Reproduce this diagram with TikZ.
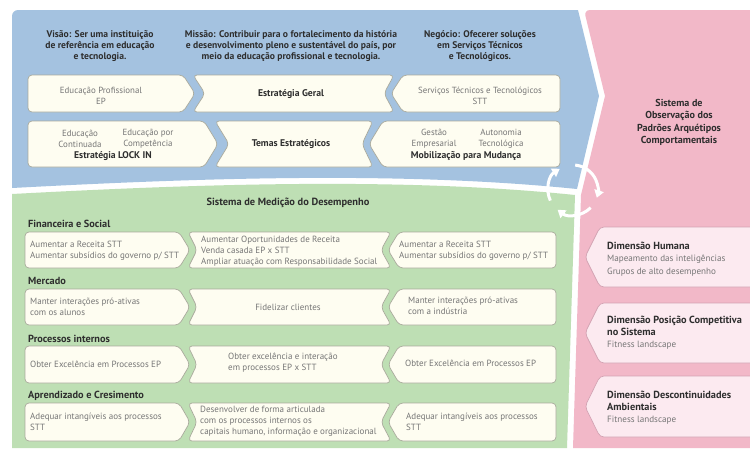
\documentclass[tikz,border=0pt]{standalone}
\usepackage{fontspec}
\setmainfont{PT Sans}
\usetikzlibrary{arrows.meta}
\definecolor{bluebg}{HTML}{A4C2E0}
\definecolor{greenbg}{HTML}{BEDFB4}
\definecolor{pinkbg}{HTML}{F2B8C8}
\definecolor{cream}{HTML}{FEFDF1}
\definecolor{boxline}{HTML}{A9AA9C}
\definecolor{pinkbox}{HTML}{FCEAF0}
\definecolor{pinkline}{HTML}{D3A3B3}
\definecolor{graytxt}{HTML}{767676}
\definecolor{darktxt}{HTML}{2E2E2E}
\newcommand{\pkb}[1]{{\fontsize{10.3}{12.2}\selectfont\bfseries\color{darktxt}#1}}
% style, x1, x2, ytop, ybot, left top/bot inset, left mid inset, right top/bot inset, right mid inset
\newcommand{\cbox}[9]{\draw[#1] ({#2+#6},#4) -- ({#3-#8},#4) -- ({#3-#9},{(#4+#5)/2}) -- ({#3-#8},#5) -- ({#2+#6},#5) -- ({#2+#7},{(#4+#5)/2}) -- cycle;}
\begin{document}
\begin{tikzpicture}[x=1pt,y=-1pt,
  boxst/.style={fill=cream, draw=boxline, line width=0.7pt, rounded corners=4pt},
  pboxst/.style={fill=pinkbox, draw=pinkline, line width=0.7pt, rounded corners=4pt},
  ttl/.style={font=\fontsize{9.6}{11}\selectfont\bfseries, text=darktxt, align=center, inner sep=0pt},
  gtxt/.style={font=\fontsize{8.9}{11}\selectfont, text=graytxt, align=center, inner sep=0pt},
  btxt/.style={font=\fontsize{9.7}{11}\selectfont\bfseries, text=darktxt, inner sep=0pt},
  ltxt/.style={font=\fontsize{9}{11.2}\selectfont, text=graytxt, align=left, anchor=west, inner sep=0pt},
  lbl/.style={font=\fontsize{10.3}{11}\selectfont\bfseries, text=darktxt, anchor=west, inner sep=0pt},
  gttl/.style={font=\fontsize{10.4}{11}\selectfont\bfseries, text=darktxt, inner sep=0pt},
  ptitle/.style={font=\fontsize{10.1}{12.4}\selectfont\bfseries, text=darktxt, align=center, inner sep=0pt},
  ptxt/.style={font=\fontsize{9.1}{12.2}\selectfont, text=graytxt, align=left, anchor=west, inner sep=0pt},
  cyc/.style={white, line width=3pt, -{Triangle[length=7.5pt,width=9.5pt]}}
]
\useasboundingbox (0,0) rectangle (750,448);
\clip (0,0) rectangle (750,448);
\fill[white] (0,0) rectangle (750,448);

% regions
\fill[bluebg] (12,188) [rounded corners=6pt] -- (12,10) [sharp corners] -- (578,10) -- (599,96) -- (577,189) .. controls (400,171) and (200,178) .. (12,188) -- cycle;
\fill[greenbg] (12,194) .. controls (200,184) and (400,177) .. (575,195) -- (567,448) -- (12,448) -- cycle;
\fill[pinkbg] (750,448) -- (573,448) -- (581,195) -- (605,96) [rounded corners=6pt] -- (584,10) [sharp corners] -- (750,10) -- cycle;

% blue boxes
\cbox{boxst}{28}{195}{75}{112}{0}{0}{12}{0}
\cbox{boxst}{193}{394}{75}{112}{0}{12}{0}{10}
\cbox{boxst}{391}{560}{75}{112}{12}{0}{0}{0}
\cbox{boxst}{28}{218}{121}{167}{0}{0}{14}{0}
\cbox{boxst}{215}{373}{121}{167}{0}{14}{0}{11}
\cbox{boxst}{369}{560}{121}{167}{14}{0}{0}{0}

% green boxes
\foreach \yt/\yb in {232/268, 289/325, 346/383, 403/441}{
  \cbox{boxst}{25}{190}{\yt}{\yb}{0}{0}{11}{0}
  \cbox{boxst}{188}{391}{\yt}{\yb}{0}{9}{0}{10}
  \cbox{boxst}{388}{556}{\yt}{\yb}{11}{0}{0}{0}
}

% pink boxes
\cbox{pboxst}{585}{760}{227}{287}{15}{0}{0}{0}
\cbox{pboxst}{585}{760}{303}{363}{15}{0}{0}{0}
\cbox{pboxst}{585}{760}{376}{437}{15}{0}{0}{0}

% blue texts
\node[ttl] (visao) at (100,46) {Visão: Ser uma instituição\\de referência em educação\\e tecnologia.};
\node[ttl] (missao) at (291,46) {Missão: Contribuir para o fortalecimento da história\\e desenvolvimento pleno e sustentável do país, por\\meio da educação profissional e tecnologia.};
\node[ttl] (negocio) at (480,46) {Negócio: Ofecerer soluções\\em Serviços Técnicos\\e Tecnológicos.};

\node[gtxt] (ep) at (101,95.5) {Educação Profissional\\EP};
\node[btxt] (eg) at (291,94) {Estratégia Geral};
\node[gtxt] (stt) at (480,95.5) {Serviços Técnicos e Tecnológicos\\STT};
\node[gtxt] (educ) at (80,138.5) {Educação\\Continuada};
\node[gtxt] (comp) at (148,138.5) {Educação por\\Competência};
\node[btxt] (lock) at (113,156) {Estratégia LOCK IN};
\node[btxt] (temas) at (291,144) {Temas Estratégicos};
\node[gtxt] (gest) at (434,138.5) {Gestão\\Empresarial};
\node[gtxt] (auto) at (501,138.5) {Autonomia\\Tecnológica};
\node[btxt] (mob) at (466,156) {Mobilização para Mudança};

% pink title
\node[ptitle] (sop) at (679,122.5) {Sistema de\\Observação dos\\Padrões Arquétipos\\Comportamentais};

% green texts
\node[gttl] (smd) at (288,203) {Sistema de Medição do Desempenho};
\node[lbl] (fin) at (28,224) {Financeira e Social};
\node[lbl] (mer) at (28,281) {Mercado};
\node[lbl] (pro) at (28,339) {Processos internos};
\node[lbl] (apr) at (28,396) {Aprendizado e Cresimento};

\node[ltxt] (a1) at (30,250.5) {Aumentar a Receita STT\\Aumentar subsídios do governo p/ STT};
\node[ltxt] (a2) at (201,251) {Aumentar Oportunidades de Receita\\Venda casada EP x STT\\Ampliar atuação com Responsabilidade Social};
\node[ltxt] (a3) at (399,250.5) {Aumentar a Receita STT\\Aumentar subsídios do governo p/ STT};
\node[ltxt] (b1) at (30,306.5) {Manter interações pró-ativas\\com os alunos};
\node[ltxt, anchor=center] (b2) at (288,307) {Fidelizar clientes};
\node[ltxt] (b3) at (408,306) {Manter interações pró-ativas\\com a indústria};
\node[ltxt] (c1) at (30,364) {Obter Excelência em Processos EP};
\node[ltxt] (c2) at (228,362.5) {Obter excelência e interação\\em processos EP x STT};
\node[ltxt] (c3) at (405,363.5) {Obter Excelência em Processos EP};
\node[ltxt] (d1) at (30,422) {Adequar intangíveis aos processos\\STT};
\node[ltxt] (d2) at (200,421) {Desenvolver de forma articulada\\com os processos internos os\\capitais humano, informação e organizacional};
\node[ltxt] (d3) at (406,422) {Adequar intangíveis aos processos\\STT};

% pink box texts
\node[ptxt] (p1) at (607,259) {\pkb{Dimensão Humana}\\Mapeamento das inteligências\\Grupos de alto desempenho};
\node[ptxt] (p2) at (607,332.5) {\pkb{Dimensão Posição Competitiva}\\\pkb{no Sistema}\\Fitness landscape};
\node[ptxt] (p3) at (607,407.5) {\pkb{Dimensão Descontinuidades}\\\pkb{Ambientais}\\Fitness landscape};

% cycle arrows
\begin{scope}[shift={(573,190)}, y=1pt]
  \draw[cyc] (205:25) arc[start angle=205, end angle=122, radius=25];
  \draw[cyc] (85:25) arc[start angle=85, end angle=-18, radius=25];
  \draw[cyc] (-45:25) arc[start angle=-45, end angle=-128, radius=25];
\end{scope}
\end{tikzpicture}
\end{document}
